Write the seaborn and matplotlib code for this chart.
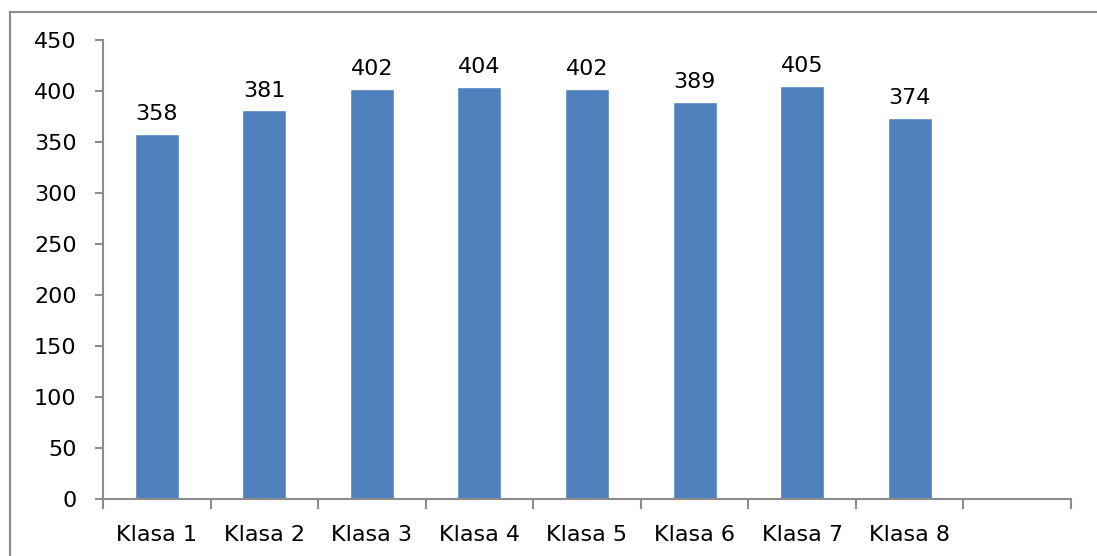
import matplotlib
matplotlib.use('Agg')
import matplotlib.pyplot as plt
import seaborn as sns
import pandas as pd
import numpy as np
from matplotlib.patches import Rectangle

categories = ['Klasa 1', 'Klasa 2', 'Klasa 3', 'Klasa 4', 'Klasa 5', 'Klasa 6', 'Klasa 7', 'Klasa 8']
values = [358, 381, 402, 404, 402, 389, 405, 374]
slots = categories + ['']  # empty slot at the right end
y_ticks = [0, 50, 100, 150, 200, 250, 300, 350, 400, 450]

df = pd.DataFrame({'klasa': categories, 'value': values})

sns.set_style('white')
plt.rcParams['font.family'] = ['DejaVu Sans']

fig = plt.figure(figsize=(10.97, 5.56), dpi=100)
ax = fig.add_axes([103 / 1097, 1 - 499 / 556, (1071 - 103) / 1097, (499 - 40) / 556])

sns.barplot(data=df, x='klasa', y='value', order=slots, color='#4F81BD',
            width=0.41, saturation=1, ax=ax)

for i, v in enumerate(values):
    ax.annotate(str(v), (i, v), xytext=(0, 7), textcoords='offset points',
                ha='center', va='bottom', fontsize=16, color='black')

ax.set_xlim(-0.5, len(slots) - 0.5)
ax.set_ylim(0, 450)
ax.set_yticks(y_ticks)
ax.set_xlabel('')
ax.set_ylabel('')

# ticks between categories, labels centred under bars
ax.set_xticks(np.arange(len(slots)))
ax.set_xticklabels(slots)
ax.set_xticks(np.arange(len(slots) + 1) - 0.5, minor=True)
ax.tick_params(axis='x', which='major', bottom=False, length=0, pad=19,
               labelsize=16, labelcolor='black')
ax.tick_params(axis='x', which='minor', bottom=True, length=7, width=1.5,
               color='#8c8c8c', direction='out')
ax.tick_params(axis='y', left=True, length=6, width=1.5, color='#8c8c8c',
               direction='out', pad=13, labelsize=16, labelcolor='black')

for s in ['top', 'right']:
    ax.spines[s].set_visible(False)
for s in ['left', 'bottom']:
    ax.spines[s].set_color('#8c8c8c')
    ax.spines[s].set_linewidth(1.5)

# outer chart frame
fig.patches.append(Rectangle((10 / 1097, -0.05), 1.1, 1 - 12 / 556 + 0.05,
                             transform=fig.transFigure, fill=False,
                             edgecolor='#8c8c8c', linewidth=1.5))

fig.savefig('out.png', dpi=100)
